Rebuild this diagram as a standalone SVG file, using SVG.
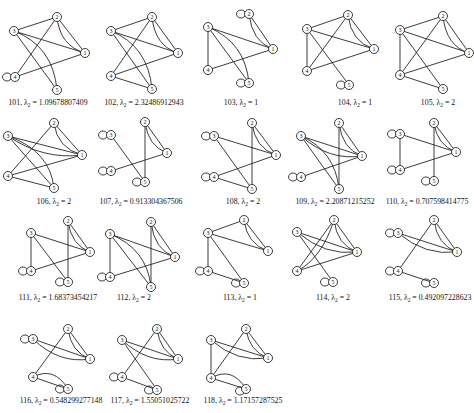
<svg xmlns="http://www.w3.org/2000/svg" width="474" height="413" viewBox="0 0 474 413">
<style>
.e path{fill:none;stroke:#1a1a1a;stroke-width:0.85}
.e ellipse{fill:none;stroke:#1a1a1a;stroke-width:0.85}
.n circle{fill:#fff;stroke:#1a1a1a;stroke-width:0.85}
.n text{font-family:"Liberation Serif",serif;font-size:6px;text-anchor:middle;fill:#111}
.lbl{font-family:"Liberation Serif",serif;font-size:7.8px;text-anchor:middle;fill:#111}
.s{font-size:5.4px}
</style>
<rect width="474" height="413" fill="#fff"/>

<!-- 101 -->
<g id="g101">
<g id="g101-edges" class="e">
<path d="M14 31L57 17M14 31L85 53M14 31L57 90M14 31Q53 46 57 90M57 17L15 77M57 17L85 53M57 17Q60 46 85 53M15 77L85 53"/>
<ellipse cx="7" cy="77" rx="4.5" ry="4"/>
</g>
<g id="g101-n1" class="n"><circle cx="85" cy="53" r="4.5"/><text x="85" y="55">1</text></g>
<g id="g101-n2" class="n"><circle cx="57" cy="17" r="4.5"/><text x="57" y="19">2</text></g>
<g id="g101-n3" class="n"><circle cx="14" cy="31" r="4.5"/><text x="14" y="33">3</text></g>
<g id="g101-n4" class="n"><circle cx="15" cy="77" r="4.5"/><text x="15" y="79">4</text></g>
<g id="g101-n5" class="n"><circle cx="57" cy="90" r="4.5"/><text x="57" y="92">5</text></g>
<text class="lbl" x="48" y="105">101, λ<tspan class="s" dy="1.6">2</tspan><tspan dy="-1.6"> = 1.09678807409</tspan></text>
</g>

<!-- 102 -->
<g id="g102">
<g id="g102-edges" class="e">
<path d="M111 31L152 17M111 31L178 53M111 31L152 89M111 31Q148 46 152 89M152 17L111 76M152 17L178 53M152 17Q155 46 178 53M111 76L178 53M111 76L152 89"/>
</g>
<g id="g102-n1" class="n"><circle cx="178" cy="53" r="4.5"/><text x="178" y="55">1</text></g>
<g id="g102-n2" class="n"><circle cx="152" cy="17" r="4.5"/><text x="152" y="19">2</text></g>
<g id="g102-n3" class="n"><circle cx="111" cy="31" r="4.5"/><text x="111" y="33">3</text></g>
<g id="g102-n4" class="n"><circle cx="111" cy="76" r="4.5"/><text x="111" y="78">4</text></g>
<g id="g102-n5" class="n"><circle cx="152" cy="89" r="4.5"/><text x="152" y="91">5</text></g>
<text class="lbl" x="144" y="105">102, λ<tspan class="s" dy="1.6">2</tspan><tspan dy="-1.6"> = 2.32486912943</tspan></text>
</g>

<!-- 103 -->
<g id="g103">
<g id="g103-edges" class="e">
<path d="M208 27L273 49M208 27L208 70M208 27L249 83M208 27Q245 42 249 83M249 14L273 49M249 14Q252 42 273 49M208 70L273 49"/>
<ellipse cx="241" cy="14" rx="4.5" ry="4"/>
<ellipse cx="241" cy="83" rx="4.5" ry="4"/>
</g>
<g id="g103-n1" class="n"><circle cx="273" cy="49" r="4.5"/><text x="273" y="51">1</text></g>
<g id="g103-n2" class="n"><circle cx="249" cy="14" r="4.5"/><text x="249" y="16">2</text></g>
<g id="g103-n3" class="n"><circle cx="208" cy="27" r="4.5"/><text x="208" y="29">3</text></g>
<g id="g103-n4" class="n"><circle cx="208" cy="70" r="4.5"/><text x="208" y="72">4</text></g>
<g id="g103-n5" class="n"><circle cx="249" cy="83" r="4.5"/><text x="249" y="85">5</text></g>
<text class="lbl" x="241" y="105">103, λ<tspan class="s" dy="1.6">2</tspan><tspan dy="-1.6"> = 1</tspan></text>
</g>

<!-- 104 -->
<g id="g104">
<g id="g104-edges" class="e">
<path d="M307 29L348 15M307 29L374 49M307 29L307 71M307 29L349 85M348 15L307 71M348 15L374 49M348 15Q351 42 374 49M307 71L374 49"/>
<ellipse cx="341" cy="85" rx="4.5" ry="4"/>
</g>
<g id="g104-n1" class="n"><circle cx="374" cy="49" r="4.5"/><text x="374" y="51">1</text></g>
<g id="g104-n2" class="n"><circle cx="348" cy="15" r="4.5"/><text x="348" y="17">2</text></g>
<g id="g104-n3" class="n"><circle cx="307" cy="29" r="4.5"/><text x="307" y="31">3</text></g>
<g id="g104-n4" class="n"><circle cx="307" cy="71" r="4.5"/><text x="307" y="73">4</text></g>
<g id="g104-n5" class="n"><circle cx="349" cy="85" r="4.5"/><text x="349" y="87">5</text></g>
<text class="lbl" x="355" y="105">104, λ<tspan class="s" dy="1.6">2</tspan><tspan dy="-1.6"> = 1</tspan></text>
</g>

<!-- 105 -->
<g id="g105">
<g id="g105-edges" class="e">
<path d="M400 30L443 16M400 30L469 53M400 30L400 75M400 30L443 89M443 16L400 75M443 16L469 53M443 16Q446 46 469 53M400 75L469 53M400 75L443 89"/>
</g>
<g id="g105-n1" class="n"><circle cx="469" cy="53" r="4.5"/><text x="469" y="55">1</text></g>
<g id="g105-n2" class="n"><circle cx="443" cy="16" r="4.5"/><text x="443" y="18">2</text></g>
<g id="g105-n3" class="n"><circle cx="400" cy="30" r="4.5"/><text x="400" y="32">3</text></g>
<g id="g105-n4" class="n"><circle cx="400" cy="75" r="4.5"/><text x="400" y="77">4</text></g>
<g id="g105-n5" class="n"><circle cx="443" cy="89" r="4.5"/><text x="443" y="91">5</text></g>
<text class="lbl" x="438" y="105">105, λ<tspan class="s" dy="1.6">2</tspan><tspan dy="-1.6"> = 2</tspan></text>
</g>

<!-- 106 -->
<g id="g106">
<g id="g106-edges" class="e">
<path d="M8 136L82 155M8 136Q43 160 82 155M8 136L54 188M8 136Q50 151 54 188M54 123L8 176M54 123L82 155M54 123Q57 148 82 155M8 176L82 155M8 176L54 188"/>
</g>
<g id="g106-n1" class="n"><circle cx="82" cy="155" r="4.5"/><text x="82" y="157">1</text></g>
<g id="g106-n2" class="n"><circle cx="54" cy="123" r="4.5"/><text x="54" y="125">2</text></g>
<g id="g106-n3" class="n"><circle cx="8" cy="136" r="4.5"/><text x="8" y="138">3</text></g>
<g id="g106-n4" class="n"><circle cx="8" cy="176" r="4.5"/><text x="8" y="178">4</text></g>
<g id="g106-n5" class="n"><circle cx="54" cy="188" r="4.5"/><text x="54" y="190">5</text></g>
<text class="lbl" x="54" y="204">106, λ<tspan class="s" dy="1.6">2</tspan><tspan dy="-1.6"> = 2</tspan></text>
</g>

<!-- 107 -->
<g id="g107">
<g id="g107-edges" class="e">
<path d="M111 135L145 182M145 122L145 182M145 122L167 153M145 122Q148 146 167 153M111 171L167 153"/>
<ellipse cx="103" cy="135" rx="4.5" ry="4"/>
<ellipse cx="103" cy="171" rx="4.5" ry="4"/>
<ellipse cx="137" cy="182" rx="4.5" ry="4"/>
</g>
<g id="g107-n1" class="n"><circle cx="167" cy="153" r="4.5"/><text x="167" y="155">1</text></g>
<g id="g107-n2" class="n"><circle cx="145" cy="122" r="4.5"/><text x="145" y="124">2</text></g>
<g id="g107-n3" class="n"><circle cx="111" cy="135" r="4.5"/><text x="111" y="137">3</text></g>
<g id="g107-n4" class="n"><circle cx="111" cy="171" r="4.5"/><text x="111" y="173">4</text></g>
<g id="g107-n5" class="n"><circle cx="145" cy="182" r="4.5"/><text x="145" y="184">5</text></g>
<text class="lbl" x="141" y="204">107, λ<tspan class="s" dy="1.6">2</tspan><tspan dy="-1.6"> = 0.913304367506</tspan></text>
</g>

<!-- 108 -->
<g id="g108">
<g id="g108-edges" class="e">
<path d="M214 136L276 155M214 136L252 189M252 123L252 189M252 123L276 155M252 123Q255 148 276 155M214 177L276 155M214 177L252 189"/>
<ellipse cx="206" cy="136" rx="4.5" ry="4"/>
<ellipse cx="206" cy="177" rx="4.5" ry="4"/>
</g>
<g id="g108-n1" class="n"><circle cx="276" cy="155" r="4.5"/><text x="276" y="157">1</text></g>
<g id="g108-n2" class="n"><circle cx="252" cy="123" r="4.5"/><text x="252" y="125">2</text></g>
<g id="g108-n3" class="n"><circle cx="214" cy="136" r="4.5"/><text x="214" y="138">3</text></g>
<g id="g108-n4" class="n"><circle cx="214" cy="177" r="4.5"/><text x="214" y="179">4</text></g>
<g id="g108-n5" class="n"><circle cx="252" cy="189" r="4.5"/><text x="252" y="191">5</text></g>
<text class="lbl" x="243" y="204">108, λ<tspan class="s" dy="1.6">2</tspan><tspan dy="-1.6"> = 2</tspan></text>
</g>

<!-- 109 -->
<g id="g109">
<g id="g109-edges" class="e">
<path d="M301 136L362 156M301 136Q329 161 362 156M301 136L339 189M301 136Q335 151 339 189M339 123L339 189M339 123L362 156M339 123Q342 149 362 156M301 177L362 156"/>
<ellipse cx="293" cy="177" rx="4.5" ry="4"/>
</g>
<g id="g109-n1" class="n"><circle cx="362" cy="156" r="4.5"/><text x="362" y="158">1</text></g>
<g id="g109-n2" class="n"><circle cx="339" cy="123" r="4.5"/><text x="339" y="125">2</text></g>
<g id="g109-n3" class="n"><circle cx="301" cy="136" r="4.5"/><text x="301" y="138">3</text></g>
<g id="g109-n4" class="n"><circle cx="301" cy="177" r="4.5"/><text x="301" y="179">4</text></g>
<g id="g109-n5" class="n"><circle cx="339" cy="189" r="4.5"/><text x="339" y="191">5</text></g>
<text class="lbl" x="335" y="204">109, λ<tspan class="s" dy="1.6">2</tspan><tspan dy="-1.6"> = 2.20871215252</tspan></text>
</g>

<!-- 110 -->
<g id="g110">
<g id="g110-edges" class="e">
<path d="M400 134L400 170M400 134L456 152M434 123L434 181M434 123L456 152M434 123Q437 145 456 152M400 170L456 152"/>
<ellipse cx="392" cy="134" rx="4.5" ry="4"/>
<ellipse cx="392" cy="170" rx="4.5" ry="4"/>
<ellipse cx="426" cy="181" rx="4.5" ry="4"/>
</g>
<g id="g110-n1" class="n"><circle cx="456" cy="152" r="4.5"/><text x="456" y="154">1</text></g>
<g id="g110-n2" class="n"><circle cx="434" cy="123" r="4.5"/><text x="434" y="125">2</text></g>
<g id="g110-n3" class="n"><circle cx="400" cy="134" r="4.5"/><text x="400" y="136">3</text></g>
<g id="g110-n4" class="n"><circle cx="400" cy="170" r="4.5"/><text x="400" y="172">4</text></g>
<g id="g110-n5" class="n"><circle cx="434" cy="181" r="4.5"/><text x="434" y="183">5</text></g>
<text class="lbl" x="427" y="204">110, λ<tspan class="s" dy="1.6">2</tspan><tspan dy="-1.6"> = 0.707598414775</tspan></text>
</g>

<!-- 111 -->
<g id="g111">
<g id="g111-edges" class="e">
<path d="M31 233L90 252M31 233L31 271M31 233L68 282M68 221L68 282M68 221L90 252M68 221Q71 245 90 252M31 271L90 252"/>
<ellipse cx="23" cy="271" rx="4.5" ry="4"/>
<ellipse cx="60" cy="282" rx="4.5" ry="4"/>
</g>
<g id="g111-n1" class="n"><circle cx="90" cy="252" r="4.5"/><text x="90" y="254">1</text></g>
<g id="g111-n2" class="n"><circle cx="68" cy="221" r="4.5"/><text x="68" y="223">2</text></g>
<g id="g111-n3" class="n"><circle cx="31" cy="233" r="4.5"/><text x="31" y="235">3</text></g>
<g id="g111-n4" class="n"><circle cx="31" cy="271" r="4.5"/><text x="31" y="273">4</text></g>
<g id="g111-n5" class="n"><circle cx="68" cy="282" r="4.5"/><text x="68" y="284">5</text></g>
<text class="lbl" x="58" y="300">111, λ<tspan class="s" dy="1.6">2</tspan><tspan dy="-1.6"> = 1.68373454217</tspan></text>
</g>

<!-- 112 -->
<g id="g112">
<g id="g112-edges" class="e">
<path d="M110 234L110 277M110 234L175 257M110 234L151 287M110 234Q147 249 151 287M151 222L151 287M151 222L175 257M151 222Q154 250 175 257M110 277L175 257"/>
<ellipse cx="102" cy="277" rx="4.5" ry="4"/>
</g>
<g id="g112-n1" class="n"><circle cx="175" cy="257" r="4.5"/><text x="175" y="259">1</text></g>
<g id="g112-n2" class="n"><circle cx="151" cy="222" r="4.5"/><text x="151" y="224">2</text></g>
<g id="g112-n3" class="n"><circle cx="110" cy="234" r="4.5"/><text x="110" y="236">3</text></g>
<g id="g112-n4" class="n"><circle cx="110" cy="277" r="4.5"/><text x="110" y="279">4</text></g>
<g id="g112-n5" class="n"><circle cx="151" cy="287" r="4.5"/><text x="151" y="289">5</text></g>
<text class="lbl" x="134" y="300">112, λ<tspan class="s" dy="1.6">2</tspan><tspan dy="-1.6"> = 2</tspan></text>
</g>

<!-- 113 -->
<g id="g113">
<g id="g113-edges" class="e">
<path d="M208 233L244 220M208 233L268 251M208 233L208 271M208 233L244 283M244 220L268 251M244 220Q247 244 268 251M208 271L244 283"/>
<ellipse cx="200" cy="271" rx="4.5" ry="4"/>
<ellipse cx="236" cy="283" rx="4.5" ry="4"/>
</g>
<g id="g113-n1" class="n"><circle cx="268" cy="251" r="4.5"/><text x="268" y="253">1</text></g>
<g id="g113-n2" class="n"><circle cx="244" cy="220" r="4.5"/><text x="244" y="222">2</text></g>
<g id="g113-n3" class="n"><circle cx="208" cy="233" r="4.5"/><text x="208" y="235">3</text></g>
<g id="g113-n4" class="n"><circle cx="208" cy="271" r="4.5"/><text x="208" y="273">4</text></g>
<g id="g113-n5" class="n"><circle cx="244" cy="283" r="4.5"/><text x="244" y="285">5</text></g>
<text class="lbl" x="240" y="300">113, λ<tspan class="s" dy="1.6">2</tspan><tspan dy="-1.6"> = 1</tspan></text>
</g>

<!-- 114 -->
<g id="g114">
<g id="g114-edges" class="e">
<path d="M297 232L357 252M297 232Q325 256 357 252M297 232L333 282M334 220L297 271M334 220Q322 258 297 271M334 220L357 252M334 220Q337 245 357 252M297 271L357 252"/>
<ellipse cx="325" cy="282" rx="4.5" ry="4"/>
</g>
<g id="g114-n1" class="n"><circle cx="357" cy="252" r="4.5"/><text x="357" y="254">1</text></g>
<g id="g114-n2" class="n"><circle cx="334" cy="220" r="4.5"/><text x="334" y="222">2</text></g>
<g id="g114-n3" class="n"><circle cx="297" cy="232" r="4.5"/><text x="297" y="234">3</text></g>
<g id="g114-n4" class="n"><circle cx="297" cy="271" r="4.5"/><text x="297" y="273">4</text></g>
<g id="g114-n5" class="n"><circle cx="333" cy="282" r="4.5"/><text x="333" y="284">5</text></g>
<text class="lbl" x="333" y="300">114, λ<tspan class="s" dy="1.6">2</tspan><tspan dy="-1.6"> = 2</tspan></text>
</g>

<!-- 115 -->
<g id="g115">
<g id="g115-edges" class="e">
<path d="M398 233L457 252M398 233Q425 256 457 252M434 220L398 271M434 220L457 252M434 220Q437 245 457 252M398 271L434 283"/>
<ellipse cx="390" cy="233" rx="4.5" ry="4"/>
<ellipse cx="390" cy="271" rx="4.5" ry="4"/>
<ellipse cx="426" cy="283" rx="4.5" ry="4"/>
</g>
<g id="g115-n1" class="n"><circle cx="457" cy="252" r="4.5"/><text x="457" y="254">1</text></g>
<g id="g115-n2" class="n"><circle cx="434" cy="220" r="4.5"/><text x="434" y="222">2</text></g>
<g id="g115-n3" class="n"><circle cx="398" cy="233" r="4.5"/><text x="398" y="235">3</text></g>
<g id="g115-n4" class="n"><circle cx="398" cy="271" r="4.5"/><text x="398" y="273">4</text></g>
<g id="g115-n5" class="n"><circle cx="434" cy="283" r="4.5"/><text x="434" y="285">5</text></g>
<text class="lbl" x="430" y="300">115, λ<tspan class="s" dy="1.6">2</tspan><tspan dy="-1.6"> = 0.492097228623</tspan></text>
</g>

<!-- 116 -->
<g id="g116">
<g id="g116-edges" class="e">
<path d="M33 339L90 359M33 339Q59 364 90 359M68 329L33 377M68 329L90 359M68 329Q71 352 90 359M33 377L68 389M33 377Q54 366 68 389"/>
<ellipse cx="25" cy="339" rx="4.5" ry="4"/>
<ellipse cx="60" cy="389" rx="4.5" ry="4"/>
</g>
<g id="g116-n1" class="n"><circle cx="90" cy="359" r="4.5"/><text x="90" y="361">1</text></g>
<g id="g116-n2" class="n"><circle cx="68" cy="329" r="4.5"/><text x="68" y="331">2</text></g>
<g id="g116-n3" class="n"><circle cx="33" cy="339" r="4.5"/><text x="33" y="341">3</text></g>
<g id="g116-n4" class="n"><circle cx="33" cy="377" r="4.5"/><text x="33" y="379">4</text></g>
<g id="g116-n5" class="n"><circle cx="68" cy="389" r="4.5"/><text x="68" y="391">5</text></g>
<text class="lbl" x="61" y="403">116, λ<tspan class="s" dy="1.6">2</tspan><tspan dy="-1.6"> = 0.548299277148</tspan></text>
</g>

<!-- 117 -->
<g id="g117">
<g id="g117-edges" class="e">
<path d="M122 340L178 359M122 340Q148 364 178 359M122 340L157 390M157 329L122 377M157 329L178 359M157 329Q160 352 178 359M122 377L157 390"/>
<ellipse cx="114" cy="377" rx="4.5" ry="4"/>
<ellipse cx="149" cy="390" rx="4.5" ry="4"/>
</g>
<g id="g117-n1" class="n"><circle cx="178" cy="359" r="4.5"/><text x="178" y="361">1</text></g>
<g id="g117-n2" class="n"><circle cx="157" cy="329" r="4.5"/><text x="157" y="331">2</text></g>
<g id="g117-n3" class="n"><circle cx="122" cy="340" r="4.5"/><text x="122" y="342">3</text></g>
<g id="g117-n4" class="n"><circle cx="122" cy="377" r="4.5"/><text x="122" y="379">4</text></g>
<g id="g117-n5" class="n"><circle cx="157" cy="390" r="4.5"/><text x="157" y="392">5</text></g>
<text class="lbl" x="150" y="403">117, λ<tspan class="s" dy="1.6">2</tspan><tspan dy="-1.6"> = 1.55051025722</tspan></text>
</g>

<!-- 118 -->
<g id="g118">
<g id="g118-edges" class="e">
<path d="M211 340L211 378M211 340L268 358M211 340Q237 363 268 358M246 329L211 378M246 329L268 358M246 329Q249 351 268 358M211 378L246 389M211 378Q232 366 246 389"/>
<ellipse cx="240" cy="391" rx="4.5" ry="4"/>
</g>
<g id="g118-n1" class="n"><circle cx="268" cy="358" r="4.5"/><text x="268" y="360">1</text></g>
<g id="g118-n2" class="n"><circle cx="246" cy="329" r="4.5"/><text x="246" y="331">2</text></g>
<g id="g118-n3" class="n"><circle cx="211" cy="340" r="4.5"/><text x="211" y="342">3</text></g>
<g id="g118-n4" class="n"><circle cx="211" cy="378" r="4.5"/><text x="211" y="380">4</text></g>
<g id="g118-n5" class="n"><circle cx="246" cy="389" r="4.5"/><text x="246" y="391">5</text></g>
<text class="lbl" x="243" y="403">118, λ<tspan class="s" dy="1.6">2</tspan><tspan dy="-1.6"> = 1.17157287525</tspan></text>
</g>
</svg>
